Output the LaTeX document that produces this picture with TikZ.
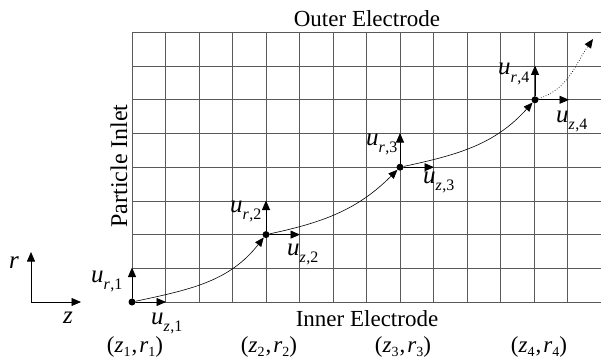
\documentclass[tikz,border=0pt]{standalone}
\usepackage{fontspec}
\setmainfont{Liberation Serif}
\usetikzlibrary{arrows.meta,calc}
\newcommand{\uvec}[2]{{\fontsize{25}{25}\selectfont\textit{u}}\raisebox{-0.75ex}{\fontsize{16}{16}\selectfont\textit{#1}\kern0.5pt,#2}}
\newcommand{\zrpair}[1]{(\textit{z}\raisebox{-0.45ex}{\fontsize{14}{14}\selectfont #1}\kern1pt,\kern2pt\textit{r}\raisebox{-0.45ex}{\fontsize{14}{14}\selectfont #1})}
\tikzset{
  gridline/.style={line width=0.8pt, draw=black!65},
  dotnode/.style={circle, fill=black, inner sep=0pt, minimum size=7pt},
  uarrow/.style={line width=0.9pt, -{Triangle[length=9.5pt,width=8pt]}},
  traj/.style={line width=0.6pt, -{Triangle[length=9pt,width=7.5pt]}},
  lbl/.style={inner sep=0pt, anchor=base west},
  title/.style={inner sep=0pt, anchor=base}
}
\begin{document}
\begin{tikzpicture}[x=1pt,y=1pt,font=\fontsize{23}{27}\selectfont]
\useasboundingbox (0,0) rectangle (601,362);
% grid
\foreach \i in {0,...,14} \draw[gridline] (132+33.5*\i,60) -- (132+33.5*\i,329.6);
\foreach \j in {0,...,8} \draw[gridline] (132,60+33.7*\j) -- (601,60+33.7*\j);
% points
\node[dotnode] (p1) at (132,60) {};
\node[dotnode] (p2) at (266,127.4) {};
\node[dotnode] (p3) at (400,194.8) {};
\node[dotnode] (p4) at (535,262.2) {};
% arrow tips
\coordinate (uz1) at (166,60);
\coordinate (ur1) at (132,94.5);
\coordinate (uz2) at (300,127.4);
\coordinate (ur2) at (266,161.5);
\coordinate (uz3) at (434,194.8);
\coordinate (ur3) at (400,229);
\coordinate (uz4) at (569,262.2);
\coordinate (ur4) at (535,296.5);
\coordinate (trajend) at (593,323);
\draw[uarrow] (p1) -- (uz1);
\draw[uarrow] (p1) -- (ur1);
\draw[uarrow] (p2) -- (uz2);
\draw[uarrow] (p2) -- (ur2);
\draw[uarrow] (p3) -- (uz3);
\draw[uarrow] (p3) -- (ur3);
\draw[uarrow] (p4) -- (uz4);
\draw[uarrow] (p4) -- (ur4);
% trajectory
\draw[traj] (p1) to[out=12,in=232] (p2);
\draw[traj] (p2) to[out=12,in=225] (p3);
\draw[traj] (p3) to[out=12,in=228] (p4);
\draw[traj, dotted, line width=0.8pt] (p4) to[out=18,in=235] (trajend);
% velocity labels
\node[lbl] (luz1) at (151,38) {\uvec{z}{1}};
\node[lbl] (lur1) at (91,80) {\uvec{r}{1}};
\node[lbl] (luz2) at (287,107) {\uvec{z}{2}};
\node[lbl] (lur2) at (230,150) {\uvec{r}{2}};
\node[lbl] (luz3) at (423,179) {\uvec{z}{3}};
\node[lbl] (lur3) at (366,217) {\uvec{r}{3}};
\node[lbl] (luz4) at (556,240) {\uvec{z}{4}};
\node[lbl] (lur4) at (498,287) {\uvec{r}{4}};
% position labels
\node[title] (pos1) at (135,10) {\zrpair{1}};
\node[title] (pos2) at (269,10) {\zrpair{2}};
\node[title] (pos3) at (403,10) {\zrpair{3}};
\node[title] (pos4) at (539,10) {\zrpair{4}};
% titles
\node[title] (outer) at (367,335) {Outer Electrode};
\node[title] (inner) at (367,36) {Inner Electrode};
\node[title, rotate=90, font=\fontsize{24}{28}\selectfont] (inlet) at (127,196) {Particle Inlet};
% axes
\coordinate (ax0) at (31,60);
\coordinate (axr) at (31,110);
\coordinate (axz) at (81,60);
\draw[line width=0.7pt, -{Triangle[length=9.5pt,width=8pt]}] (ax0) -- (axr);
\draw[line width=0.7pt, -{Triangle[length=9.5pt,width=8pt]}] (ax0) -- (axz);
\node[lbl, font=\fontsize{25}{25}\selectfont] (rlab) at (9,94) {\textit{r}};
\node[lbl, font=\fontsize{25}{25}\selectfont] (zlab) at (63,39) {\textit{z}};
\end{tikzpicture}
\end{document}
